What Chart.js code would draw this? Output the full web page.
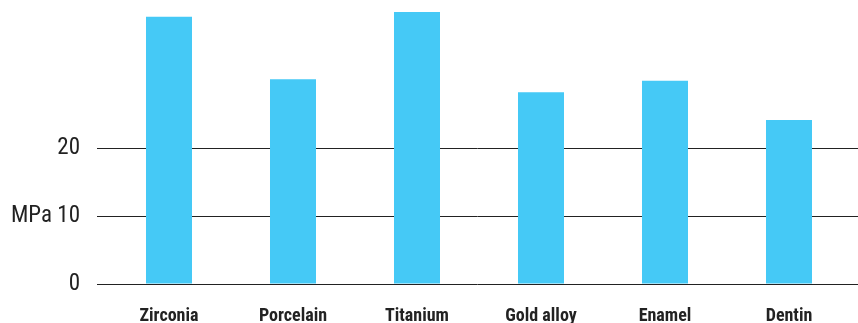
<!DOCTYPE html>
<html>
<head>
<meta charset="utf-8">
<script src="https://cdn.jsdelivr.net/npm/chart.js@4/dist/chart.umd.min.js"></script>
<style>
html,body{margin:0;padding:0;background:#fff;}
#wrap{width:858px;height:323px;}
</style>
</head>
<body>
<div id="wrap"><canvas id="c" width="858" height="323"></canvas></div>
<script>
const categories = ["Zirconia", "Porcelain", "Titanium", "Gold alloy", "Enamel", "Dentin"];
const values = [39.3, 30.1, 40.0, 28.2, 29.9, 24.1];
const yTicks = [0, 10, 20];
const yUnit = "MPa";

const gridPlugin = {
  id: 'extGrid',
  beforeDatasetsDraw(chart) {
    const ctx = chart.ctx, y = chart.scales.y;
    ctx.save();
    ctx.strokeStyle = '#222';
    ctx.lineWidth = 1;
    yTicks.forEach(v => {
      const py = Math.round(y.getPixelForValue(v)) + 0.5;
      ctx.beginPath();
      ctx.moveTo(chart.chartArea.left - 10, py);
      ctx.lineTo(chart.width, py);
      ctx.stroke();
    });
    ctx.restore();
  }
};

new Chart(document.getElementById('c'), {
  type: 'bar',
  data: {
    labels: categories,
    datasets: [{
      data: values,
      backgroundColor: '#45C9F6',
      borderWidth: 0,
      barPercentage: 0.371,
      categoryPercentage: 1.0
    }]
  },
  options: {
    responsive: false,
    animation: false,
    layout: { padding: { top: 0, right: 7, left: 0, bottom: 0 } },
    plugins: { legend: { display: false }, tooltip: { enabled: false } },
    scales: {
      x: {
        grid: { display: false, drawTicks: false },
        border: { display: false },
        ticks: {
          color: '#222',
          padding: 22,
          font: { family: 'Roboto', size: 18, weight: 'bold condensed' }
        },
        afterFit(s) { s.height = 39; }
      },
      y: {
        min: 0,
        max: 41.76,
        grid: { display: true, color: 'rgba(0,0,0,0)', drawTicks: true, tickLength: 27 },
        border: { display: false },
        afterBuildTicks(s) { s.ticks = yTicks.map(v => ({ value: v })); },
        ticks: {
          color: '#222',
          padding: 0,
          font: { family: 'Roboto', size: 23, weight: 'condensed' },
          callback: v => v === 10 ? yUnit + ' ' + v : String(v)
        },
        afterFit(s) { s.width = 107; s.paddingTop = 0; s.paddingBottom = 0; }
      }
    }
  },
  plugins: [gridPlugin]
});
</script>
</body>
</html>
